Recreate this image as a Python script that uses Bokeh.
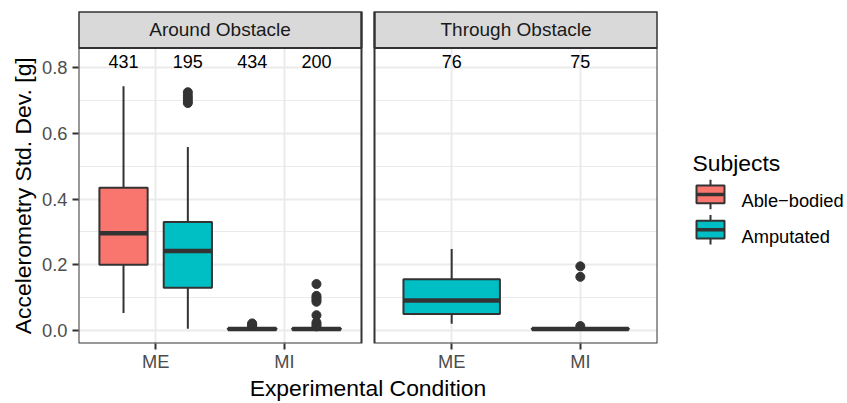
import math
from bokeh.plotting import figure
from bokeh.models import Range1d, FixedTicker, PrintfTickFormatter, BoxAnnotation, Label, ColumnDataSource
from bokeh.layouts import row
from bokeh.embed import file_html
from bokeh.resources import INLINE
from bokeh.core.properties import value

# ---------------- data ----------------
facets = ["Around Obstacle", "Through Obstacle"]
conditions = ["ME", "MI"]
subjects = ["Able\u2212bodied", "Amputated"]
subject_colors = ["#F8766D", "#00BFC4"]

box_facet = ["Around Obstacle", "Around Obstacle", "Around Obstacle", "Around Obstacle",
             "Through Obstacle", "Through Obstacle"]
box_condition = ["ME", "ME", "MI", "MI", "ME", "MI"]
box_subject = ["Able\u2212bodied", "Amputated", "Able\u2212bodied", "Amputated", "Amputated", "Amputated"]
box_lower = [0.053, 0.005, 0.0007, 0.0007, 0.020, 0.0007]
box_q1 = [0.200, 0.130, 0.002, 0.002, 0.050, 0.002]
box_median = [0.296, 0.242, 0.004, 0.004, 0.091, 0.004]
box_q3 = [0.435, 0.330, 0.006, 0.006, 0.156, 0.006]
box_upper = [0.744, 0.559, 0.010, 0.010, 0.248, 0.010]
box_n = [431, 195, 434, 200, 76, 75]

outlier_box = [1, 1, 1, 1, 1,
               2, 2, 2, 2,
               3, 3, 3, 3, 3, 3, 3, 3, 3,
               5, 5, 5]
outlier_value = [0.693, 0.700, 0.708, 0.716, 0.726,
                 0.013, 0.016, 0.018, 0.021,
                 0.141, 0.105, 0.099, 0.093, 0.087, 0.046, 0.024, 0.018, 0.012,
                 0.195, 0.163, 0.013]

count_label_y = 0.82
y_ticks = [0.0, 0.2, 0.4, 0.6, 0.8]
y_minor_ticks = [0.1, 0.3, 0.5, 0.7]
y_title = "Accelerometry Std. Dev. [g]"
x_title = "Experimental Condition"
legend_title = "Subjects"

# ---------------- layout / style ----------------
FONT = "Liberation Sans"
PANEL_W, PANEL_H, STRIP_H, GAP = 283, 300, 37, 13
YLAB_W = 37
LEFT, TOP, BOTTOM, RIGHT = 41, 11, 55, 8
DARK = "#333333"
GRID = "#EBEBEB"

x_expand = 0.6
panel_units = len(conditions) - 1 + 2 * x_expand
px_per_x = PANEL_W / panel_units
facet_shift = panel_units + GAP / px_per_x
x_start = 1 - x_expand
x_end = x_start + (2 * PANEL_W + GAP) / px_per_x

y_min = min(box_lower + outlier_value)
y_max = max(box_upper + outlier_value + [count_label_y])
y_span = y_max - y_min
Y_LO = y_min - 0.05 * y_span
Y_HI = y_max + 0.05 * y_span
py = PANEL_H / (Y_HI - Y_LO)
Y_END = Y_HI + STRIP_H / py

DODGE, BOX_W = 1.0, 0.75


def x_of(facet, cond):
    return facets.index(facet) * facet_shift + conditions.index(cond) + 1


xs, ws, colors = [], [], []
for f, c, s in zip(box_facet, box_condition, box_subject):
    members = [ss for ff, cc, ss in zip(box_facet, box_condition, box_subject) if ff == f and cc == c]
    k = len(members)
    j = members.index(s)
    off = (j - (k - 1) / 2) * DODGE / k
    xs.append(x_of(f, c) + off)
    ws.append(BOX_W / k)
    colors.append(subject_colors[subjects.index(s)])

src = ColumnDataSource(dict(
    x=xs, w=ws, xl=[x - w / 2 for x, w in zip(xs, ws)], xr=[x + w / 2 for x, w in zip(xs, ws)],
    lower=box_lower, q1=box_q1, median=box_median, q3=box_q3, upper=box_upper,
    color=colors, n=[str(v) for v in box_n],
))
out_src = ColumnDataSource(dict(x=[xs[i] for i in outlier_box], y=outlier_value))

H = TOP + STRIP_H + PANEL_H + BOTTOM
MAIN_W = LEFT + 2 * PANEL_W + GAP + RIGHT
p = figure(width=MAIN_W, height=H,
           x_range=Range1d(x_start, x_end), y_range=Range1d(Y_LO, Y_END),
           output_backend="svg", toolbar_location=None,
           min_border_left=LEFT, min_border_right=RIGHT, min_border_top=TOP, min_border_bottom=BOTTOM,
           outline_line_color=None)

# grids
p.ygrid.grid_line_color = GRID
p.ygrid.grid_line_width = 2
p.ygrid.minor_grid_line_color = GRID
p.ygrid.minor_grid_line_width = 1
p.xgrid.grid_line_color = GRID
p.xgrid.grid_line_width = 2

# boxplots
p.segment(x0="x", y0="lower", x1="x", y1="upper", source=src, line_color=DARK, line_width=2)
p.vbar(x="x", width="w", bottom="q1", top="q3", source=src, fill_color="color",
       line_color=DARK, line_width=2)
p.segment(x0="xl", y0="median", x1="xr", y1="median", source=src, line_color=DARK,
          line_width=4.5, line_cap="butt")
p.scatter(x="x", y="y", source=out_src, size=9, fill_color=DARK, line_color=DARK)
p.text(x="x", y=count_label_y, text="n", source=src, text_align="center", text_baseline="middle",
       text_font=value(FONT), text_font_size="18px", text_color="black")

# gap between panels
p.add_layout(BoxAnnotation(left=x_start + panel_units, right=x_start + facet_shift,
                           fill_color="white", fill_alpha=1, line_alpha=0))
# strips + panel borders
for fi, f in enumerate(facets):
    l = x_start + fi * facet_shift
    r = l + panel_units
    p.add_layout(BoxAnnotation(left=l, right=r, bottom=Y_HI, fill_color="#D9D9D9", fill_alpha=1,
                               line_color=DARK, line_alpha=1, line_width=2))
    p.add_layout(BoxAnnotation(left=l, right=r, fill_color=None, fill_alpha=0,
                               line_color=DARK, line_alpha=1, line_width=2))
    p.add_layout(Label(x=(l + r) / 2, y=(Y_HI + Y_END) / 2, text=f, text_align="center",
                       text_baseline="middle", text_font=FONT, text_font_size="19px",
                       text_color="#1A1A1A"))


def style_axis(ax):
    ax.axis_line_color = None
    ax.major_tick_in = 0
    ax.major_tick_out = 6
    ax.major_tick_line_color = DARK
    ax.major_tick_line_width = 2
    ax.minor_tick_line_color = None
    ax.major_label_text_font = FONT
    ax.major_label_text_font_size = "18.3px"
    ax.major_label_text_color = "#4D4D4D"
    ax.axis_label_text_font = FONT
    ax.axis_label_text_font_size = "22.9px"
    ax.axis_label_text_font_style = "normal"
    ax.axis_label_text_color = "black"


style_axis(p.xaxis)
style_axis(p.yaxis)

p.yaxis.ticker = FixedTicker(ticks=y_ticks, minor_ticks=y_minor_ticks)
p.yaxis.formatter = PrintfTickFormatter(format="%.1f")
p.yaxis.major_label_standoff = 5

x_tick_pos = [x_of(f, c) for f in facets for c in conditions]
x_tick_lab = [c for f in facets for c in conditions]
p.xaxis.ticker = FixedTicker(ticks=x_tick_pos, minor_ticks=[])
p.xaxis.major_label_overrides = {t: lab for t, lab in zip(x_tick_pos, x_tick_lab)}
p.xaxis.major_label_standoff = 1
p.xaxis.axis_label = x_title
p.xaxis.axis_label_standoff = 0

# ---------------- y-axis title, centred on the panels ----------------
# same vertical borders and y range as the main plot, so the row keeps both aligned
yl = figure(width=YLAB_W, height=H, x_range=Range1d(0, YLAB_W), y_range=Range1d(Y_LO, Y_END),
            output_backend="svg", toolbar_location=None,
            min_border_left=0, min_border_right=0, min_border_top=TOP, min_border_bottom=BOTTOM,
            x_axis_location=None, y_axis_location=None, outline_line_color=None)
yl.xgrid.visible = False
yl.ygrid.visible = False
yl.text(x=[22], y=[(Y_LO + Y_HI) / 2], text=[y_title], angle=math.pi / 2,
        text_font=value(FONT), text_font_size="22.9px", text_color="black",
        text_align="center", text_baseline="middle")

# ---------------- legend ----------------
LG_W = 847 - YLAB_W - MAIN_W
g = figure(width=LG_W, height=H, x_range=Range1d(0, LG_W), y_range=Range1d(H - TOP - BOTTOM, 0),
           output_backend="svg", toolbar_location=None,
           min_border_left=0, min_border_right=0, min_border_top=TOP, min_border_bottom=BOTTOM,
           x_axis_location=None, y_axis_location=None, outline_line_color=None)
g.xgrid.visible = False
g.ygrid.visible = False
# legend coordinates are pixels measured from the top of the plotting area
g.text(x=[27], y=[164.5 - TOP], text=[legend_title], text_font=value(FONT), text_font_size="22.9px",
       text_color="black", text_baseline="alphabetic", text_align="left")
key_cx, key_w, key_h, whisk_h, key_step, key_y0 = 45, 28, 18, 30, 35.8, 196.7 - TOP
for i, (s, c) in enumerate(zip(subjects, subject_colors)):
    cy = key_y0 + i * key_step
    g.segment(x0=[key_cx], y0=[cy - whisk_h / 2], x1=[key_cx], y1=[cy + whisk_h / 2],
              line_color=DARK, line_width=2)
    g.quad(left=[key_cx - key_w / 2], right=[key_cx + key_w / 2], top=[cy - key_h / 2],
           bottom=[cy + key_h / 2], fill_color=c, line_color=DARK, line_width=2)
    g.segment(x0=[key_cx - key_w / 2], y0=[cy], x1=[key_cx + key_w / 2], y1=[cy],
              line_color=DARK, line_width=3.5)
    g.text(x=[76], y=[cy + 6.6], text=[s], text_font=value(FONT), text_font_size="18.3px",
           text_color="black", text_baseline="alphabetic", text_align="left")

layout = row(yl, p, g)
open("out.html", "w").write(file_html(layout, INLINE))
